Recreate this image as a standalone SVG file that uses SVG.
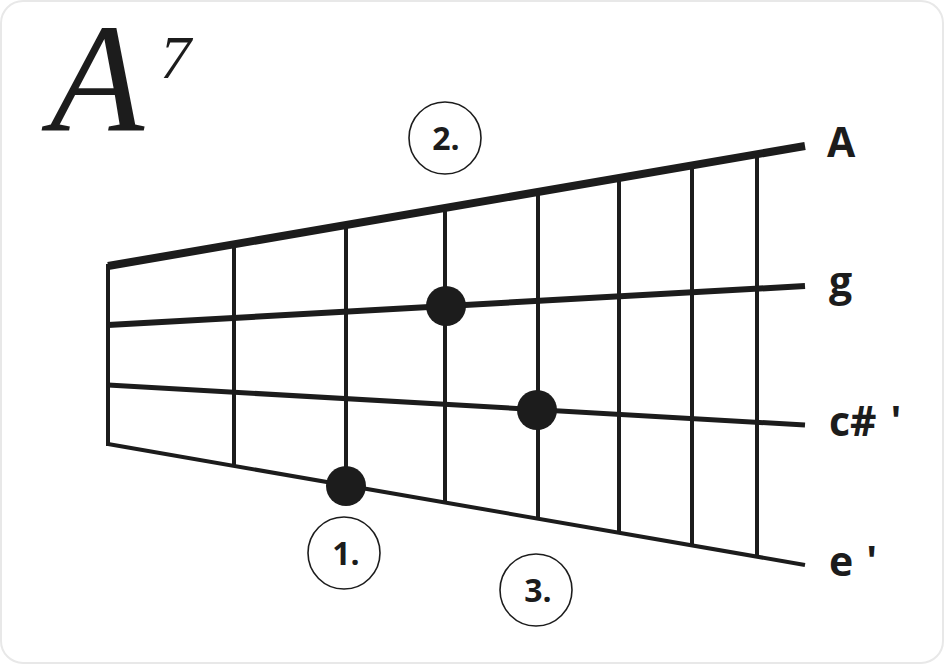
<svg xmlns="http://www.w3.org/2000/svg" width="944" height="664" viewBox="0 0 944 664">
<style>
.s{stroke:#1c1c1c;fill:none;stroke-linecap:butt}
.f{stroke:#1c1c1c;stroke-width:4;fill:none}
.dot{fill:#1c1c1c}
.ring{fill:#fff;stroke:#1c1c1c;stroke-width:1.6}
.num{font-family:"Open Sans","Noto Sans","DejaVu Sans",sans-serif;font-weight:700;font-size:32px;fill:#1c1c1c;text-anchor:middle}
.lbl{font-family:"Open Sans","Noto Sans","DejaVu Sans",sans-serif;font-weight:700;font-size:41px;fill:#1c1c1c}
</style>
<rect x="1" y="1" width="942" height="662" rx="22" fill="#fff" stroke="#e8e8e8" stroke-width="2"/>
<g id="title">
<text x="50" y="130" font-family="'Liberation Serif','Times New Roman',serif" font-style="italic" font-size="154" fill="#1c1c1c">A</text>
<text x="160" y="78" font-family="'Liberation Serif','Times New Roman',serif" font-style="italic" font-size="62" fill="#1c1c1c">7</text>
</g>
<g id="connectors">
<line class="f" x1="234" y1="244" x2="234" y2="466"/>
<line class="f" x1="346" y1="225" x2="346" y2="486"/>
<line class="f" x1="445" y1="208" x2="445" y2="503"/>
<line class="f" x1="538" y1="192" x2="538" y2="519"/>
<line class="f" x1="619" y1="178" x2="619" y2="533"/>
<line class="f" x1="692" y1="166" x2="692" y2="546"/>
<line class="f" x1="757" y1="155" x2="757" y2="557"/>
<line class="s" stroke-width="4" x1="108" y1="264" x2="108" y2="446"/>
<line class="s" stroke-width="8" x1="108" y1="266" x2="805" y2="146"/>
<line class="s" stroke-width="6" x1="108" y1="325" x2="805" y2="286"/>
<line class="s" stroke-width="5" x1="108" y1="385" x2="805" y2="425"/>
<line class="s" stroke-width="4" x1="108" y1="444" x2="805" y2="565"/>
</g>
<g id="dot1"><circle class="dot" cx="346" cy="486" r="20"/></g>
<g id="dot2"><circle class="dot" cx="446" cy="306" r="20"/></g>
<g id="dot3"><circle class="dot" cx="537" cy="410" r="20"/></g>
<g id="finger1"><circle class="ring" cx="344" cy="553" r="36"/><text class="num" x="346" y="565">1.</text></g>
<g id="finger2"><circle class="ring" cx="445" cy="138" r="36"/><text class="num" x="446" y="150">2.</text></g>
<g id="finger3"><circle class="ring" cx="536" cy="590" r="36"/><text class="num" x="538" y="602">3.</text></g>
<g id="label-A"><text class="lbl" x="827" y="157">A</text></g>
<g id="label-g"><text class="lbl" x="829" y="296">g</text></g>
<g id="label-c"><text class="lbl" x="829" y="436">c#<tspan dx="14">'</tspan></text></g>
<g id="label-e"><text class="lbl" x="829" y="576">e<tspan dx="13">'</tspan></text></g>
</svg>
